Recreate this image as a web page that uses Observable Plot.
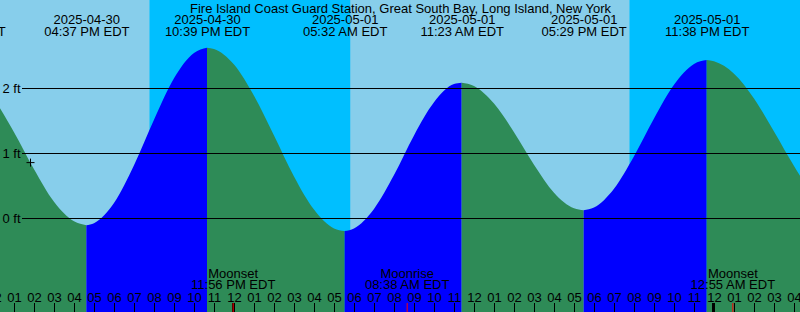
<!DOCTYPE html>
<html><head><meta charset="utf-8">
<script src="https://cdn.jsdelivr.net/npm/d3@7"></script>
<script src="https://cdn.jsdelivr.net/npm/@observablehq/plot@0.6"></script>
<style>
html,body{margin:0;padding:0;overflow:hidden;background:#87CEEB;}
#chart svg{display:block;}
</style></head><body><div id="chart"></div>
<script>
// ---- data ----
const stationTitle = "Fire Island Coast Guard Station, Great South Bay, Long Island, New York";
const viewStart = "2025-04-30T12:18";
const viewEnd = "2025-05-02T04:18";

// tide extremes (times are local EDT)
const tideTimes = ["2025-04-30T10:27","2025-04-30T16:37","2025-04-30T22:39","2025-05-01T05:32","2025-05-01T11:23","2025-05-01T17:29","2025-05-01T23:38","2025-05-02T07:00"];
const tideKinds = ["High","Low","High","Low","High","Low","High","Low"];
const tideFeet  = [2.15,-0.11,2.62,-0.20,2.08,0.12,2.43,-0.10];

// hourly tide heights (ft) starting at 2025-04-30 12:00
const hourlyStart = "2025-04-30T12:00";
const hourlyFeet = [1.82,1.32,0.75,0.25,-0.05,-0.08,0.23,0.81,1.51,2.15,2.54,2.60,2.36,1.88,1.27,0.64,0.13,-0.16,-0.16,0.14,0.66,1.27,1.78,2.06,2.03,1.76,1.32,0.82,0.39,0.15,0.16,0.45,0.95,1.53,2.05,2.37,2.41,2.22,1.84,1.33,0.80,0.33];

// sun / moon events
const sunTimes = ["2025-04-30T19:48","2025-05-01T05:51","2025-05-01T19:48"];
const sunKinds = ["Sunset","Sunrise","Sunset"];
const moonTimes = ["2025-04-30T23:56","2025-05-01T08:38","2025-05-02T00:55"];
const moonKinds = ["Moonset","Moonrise","Moonset"];

// datum lines (ft)
const datumFeet = [0,1,2];

// current-time marker
const nowTime = "2025-04-30T13:48";
const nowFeet = 0.86;

// hour tick labels range
const tickStart = "2025-04-30T12:00";
const tickEnd = "2025-05-02T05:00";

// ---- build ----
const parse = d3.utcParse("%Y-%m-%dT%H:%M");
const fmtDate = d3.utcFormat("%Y-%m-%d");
const fmtTime = d3.utcFormat("%I:%M %p EDT");
const fmtHour = d3.utcFormat("%I");
const DAY = "#87CEEB", NIGHT = "#00BFFF", RISE = "#0000FF", FALL = "#2E8B57";
const FONT = "'Liberation Sans', Arial, Helvetica, sans-serif";
const FS = 13;
const yDomain = [-94/65, 218/65];

const x0 = parse(viewStart), x1 = parse(viewEnd);
const extremes = tideTimes.map((s,i) => ({date: parse(s), kind: tideKinds[i], feet: tideFeet[i]}));
const hourly = hourlyFeet.map((f,i) => ({date: d3.utcHour.offset(parse(hourlyStart), i), feet: f}));

const curvePts = [];
for (let k = 0; k < extremes.length - 1; k++) {
  const a = extremes[k], b = extremes[k+1];
  const seg = [a, ...hourly.filter(h => h.date > a.date && h.date < b.date), b];
  seg.forEach(p => curvePts.push({date: p.date, feet: p.feet, seg: k, color: b.kind === "High" ? RISE : FALL}));
}

const sunDates = sunTimes.map(parse);
const skyEdges = [d3.utcHour.offset(x0, -2), ...sunDates, d3.utcHour.offset(x1, 2)];
const sky = [];
for (let i = 0; i < skyEdges.length - 1; i++) {
  const night = i > 0 && sunKinds[i-1] === "Sunset";
  sky.push({a: skyEdges[i], b: skyEdges[i+1], color: night ? NIGHT : DAY});
}

const moon = moonTimes.map((s,i) => ({date: parse(s), kind: moonKinds[i]}));
const hours = d3.utcHour.range(parse(tickStart), parse(tickEnd));
const isMidnight = d => d.getUTCHours() === 0;

const plot = Plot.plot({
  width: 800, height: 312, margin: 0,
  style: {fontFamily: FONT, fontSize: FS + "px", background: DAY, overflow: "hidden", color: "black"},
  x: {type: "utc", domain: [x0, x1], axis: null},
  y: {domain: yDomain, axis: null},
  color: {type: "identity"},
  marks: [
    Plot.rect(sky, {x1: "a", x2: "b", fill: "color", dx: -0.5, dy: -0.5}),
    Plot.areaY(curvePts, {x: "date", y1: yDomain[0], y2: "feet", z: "seg", fill: "color", curve: "monotone-x"}),
    Plot.ruleY(datumFeet, {y: d => d, stroke: "black", insetLeft: 22}),
    Plot.text(datumFeet, {y: d => d, text: d => `${d} ft`, frameAnchor: "left", textAnchor: "start", lineAnchor: "middle", dx: 2, fill: "black", fontSize: FS}),
    Plot.text([stationTitle], {text: d => d, frameAnchor: "top", lineAnchor: "top", dy: 3, fill: "black", fontSize: FS}),
    Plot.text(extremes, {x: "date", text: d => fmtDate(d.date) + "\n" + fmtTime(d.date), frameAnchor: "top", lineAnchor: "top", dy: 15, lineHeight: 11.7 / FS, fill: "black", fontSize: FS}),
    Plot.text(moon, {x: "date", text: d => d.kind + "\n" + fmtTime(d.date), frameAnchor: "bottom", lineAnchor: "top", dy: -42.7, lineHeight: 11.5 / FS, fill: "black", fontSize: FS}),
    Plot.text(hours, {x: d => d, text: d => fmtHour(d), frameAnchor: "bottom", lineAnchor: "top", dy: -19.7, fill: "black", fontSize: FS}),
    Plot.ruleX(hours.filter(d => !isMidnight(d)), {x: d => d, insetTop: 303, stroke: "black"}),
    Plot.ruleX(hours.filter(isMidnight), {x: d => d, insetTop: 303, stroke: "black", strokeWidth: 3, dx: -1}),
    Plot.ruleX(moon, {x: "date", insetTop: 303, stroke: "#FF0000"}),
    Plot.dot([{date: parse(nowTime), feet: nowFeet}], {x: "date", y: "feet", symbol: "plus", r: 2.7, stroke: "black", strokeWidth: 1})
  ]
});
document.getElementById("chart").appendChild(plot);
</script></body></html>
